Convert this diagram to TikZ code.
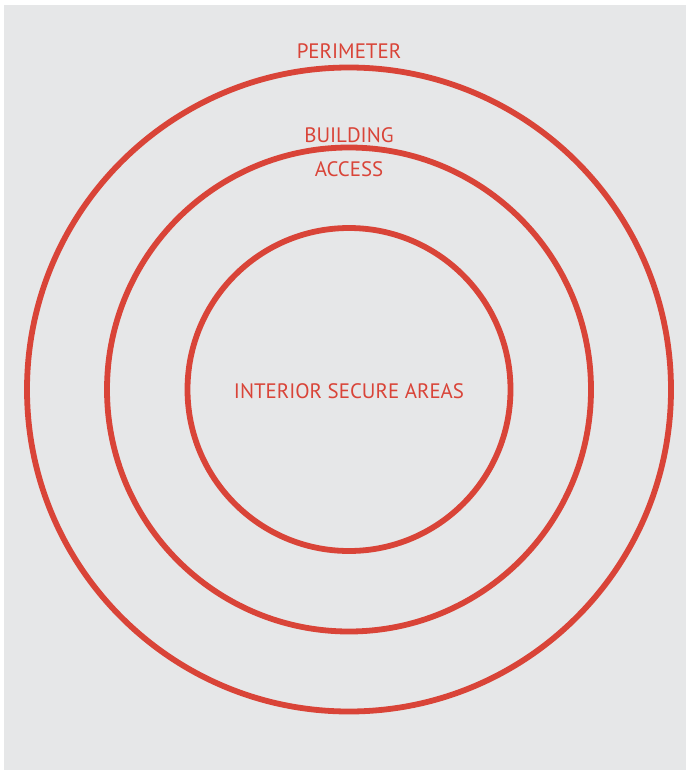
\documentclass[tikz,border=0pt]{standalone}
\usepackage{fontspec}
\setmainfont{PT Sans}
\definecolor{ringred}{RGB}{217,68,56}
\definecolor{bggrey}{RGB}{230,231,232}

\begin{document}
\begin{tikzpicture}[x=0.02cm, y=-0.02cm,
    ring/.style={draw=ringred, line width=3.3pt},
    zone/.style={text=ringred, font=\fontsize{11.9}{14}\selectfont, inner sep=0pt}]
    % background
    \useasboundingbox (0,0) rectangle (686,771);
    \fill[bggrey] (4,5) rectangle (686,770);
    % rings
    \draw[ring] (349,389.5) circle (322);
    \draw[ring] (349,389.5) circle (242);
    \draw[ring] (349,389.5) circle (161.5);
    % labels
    \node[zone] (perimeter) at (349,51) {PERIMETER};
    \node[zone] (building) at (349,135) {BUILDING};
    \node[zone] (access) at (349,169) {ACCESS};
    \node[zone] (interior) at (349,391) {INTERIOR SECURE AREAS};
\end{tikzpicture}
\end{document}
